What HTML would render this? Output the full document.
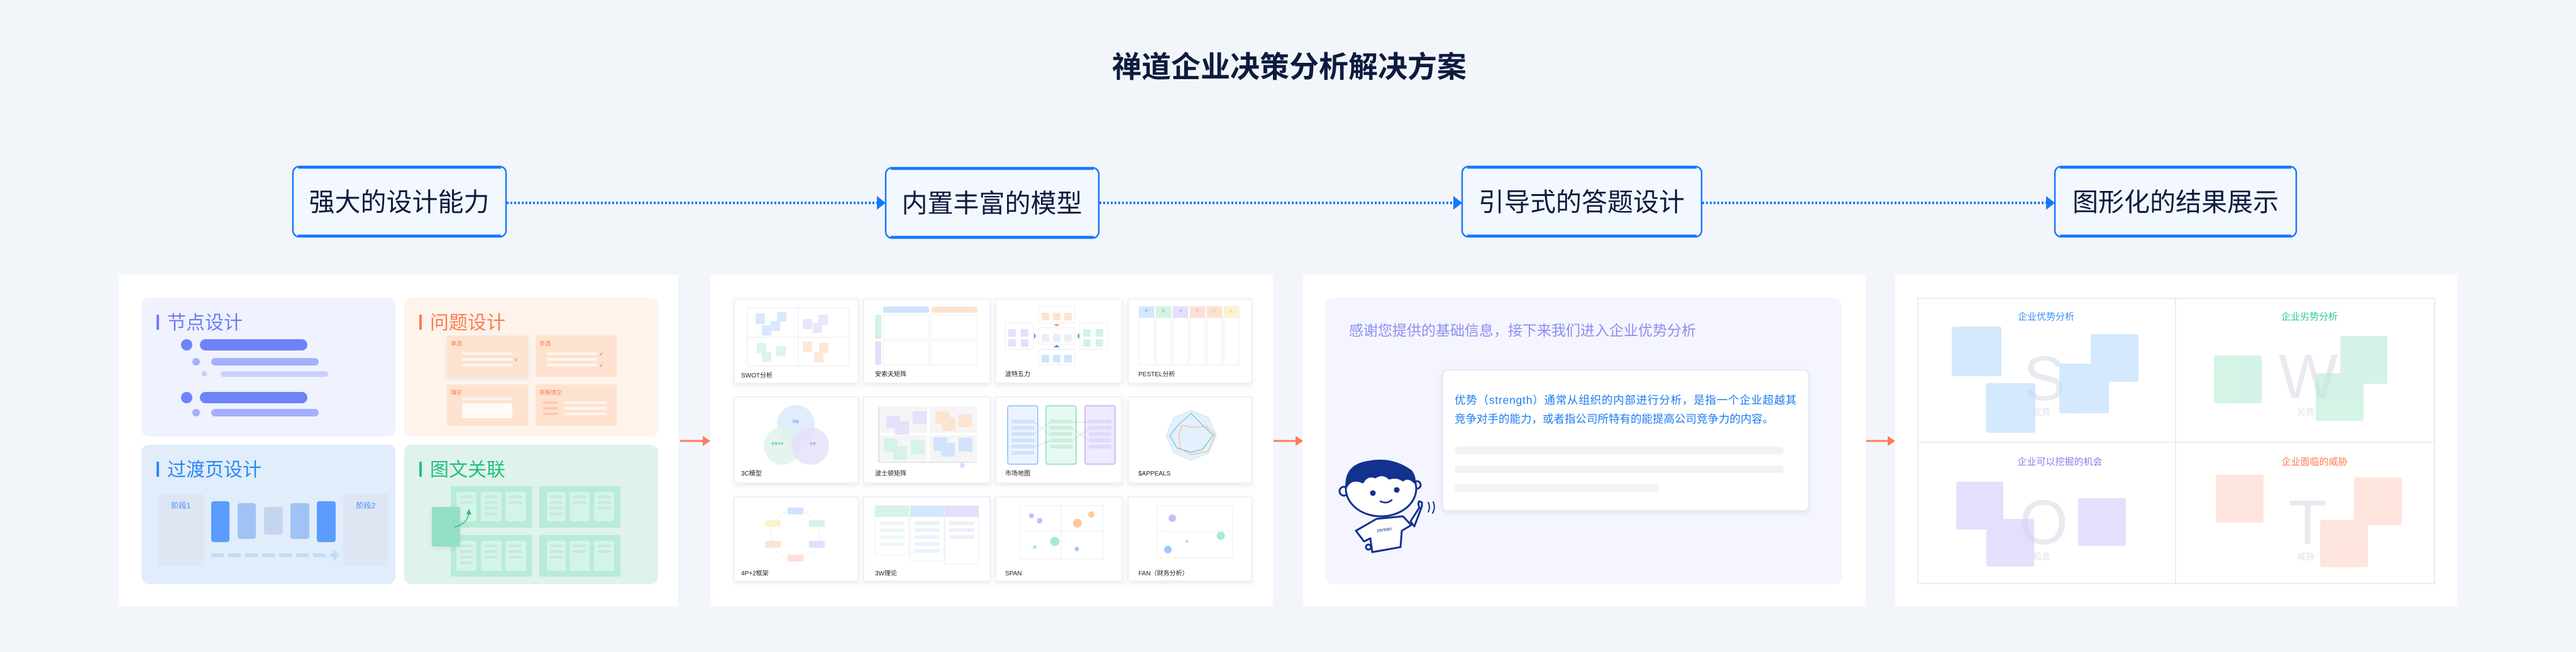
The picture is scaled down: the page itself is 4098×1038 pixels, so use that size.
<!DOCTYPE html>
<html><head><meta charset="utf-8"><style>
html,body{margin:0;padding:0;background:#f2f6fa;}
svg{display:block;}
text{font-family:"Liberation Sans","Noto Sans CJK SC",sans-serif;}
</style></head><body>
<svg width="4098" height="1038" viewBox="0 0 4098 1038" xmlns="http://www.w3.org/2000/svg">
<defs>
<filter id="sh" x="-20%" y="-20%" width="140%" height="140%"><feDropShadow dx="0" dy="3" stdDeviation="4" flood-color="#8090b0" flood-opacity="0.18"/></filter>
</defs>
<rect width="4098" height="1038" fill="#f2f6fa"/>
<text x="2051" y="123" font-size="47" font-weight="bold" fill="#0d1b3e" text-anchor="middle">禅道企业决策分析解决方案</text>

<!-- top boxes -->
<g font-size="41" fill="#0d1b3e" text-anchor="middle">
<rect x="466" y="265" width="339" height="112" rx="10" fill="#f3f8ff" stroke="#1677ff" stroke-width="2.5"/>
<line x1="474" y1="266.5" x2="797" y2="266.5" stroke="#1677ff" stroke-width="4"/><line x1="474" y1="375.5" x2="797" y2="375.5" stroke="#1677ff" stroke-width="4"/>
<text x="635" y="336">强大的设计能力</text>
<rect x="1409" y="267" width="339" height="112" rx="10" fill="#f3f8ff" stroke="#1677ff" stroke-width="2.5"/>
<line x1="1417" y1="268.5" x2="1740" y2="268.5" stroke="#1677ff" stroke-width="4"/><line x1="1417" y1="377.5" x2="1740" y2="377.5" stroke="#1677ff" stroke-width="4"/>
<text x="1578" y="338">内置丰富的模型</text>
<rect x="2326" y="265" width="381" height="112" rx="10" fill="#f3f8ff" stroke="#1677ff" stroke-width="2.5"/>
<line x1="2334" y1="266.5" x2="2699" y2="266.5" stroke="#1677ff" stroke-width="4"/><line x1="2334" y1="375.5" x2="2699" y2="375.5" stroke="#1677ff" stroke-width="4"/>
<text x="2516" y="336">引导式的答题设计</text>
<rect x="3269" y="265" width="384" height="112" rx="10" fill="#f3f8ff" stroke="#1677ff" stroke-width="2.5"/>
<line x1="3277" y1="266.5" x2="3645" y2="266.5" stroke="#1677ff" stroke-width="4"/><line x1="3277" y1="375.5" x2="3645" y2="375.5" stroke="#1677ff" stroke-width="4"/>
<text x="3461" y="336">图形化的结果展示</text>
</g>
<g stroke="#1677ff" stroke-width="4" stroke-dasharray="3 3">
<line x1="806" y1="323" x2="1396" y2="323"/><line x1="1749" y1="323" x2="2313" y2="323"/><line x1="2708" y1="323" x2="3256" y2="323"/>
</g>
<g fill="#1677ff">
<polygon points="1395,312 1409,323 1395,334"/><polygon points="2312,312 2326,323 2312,334"/><polygon points="3255,312 3269,323 3255,334"/>
</g>

<!-- panels -->
<rect x="189" y="438" width="890" height="527" fill="#fff"/>
<rect x="1130" y="438" width="895" height="527" fill="#fff"/>
<rect x="2073" y="438" width="895" height="527" fill="#fff"/>
<rect x="3015" y="438" width="894" height="527" fill="#fff"/>
<g stroke="#ff7a5c" stroke-width="3"><line x1="1082" y1="702" x2="1120" y2="702"/><line x1="2026" y1="702" x2="2063" y2="702"/><line x1="2969" y1="702" x2="3005" y2="702"/></g>
<g fill="#ff7a5c"><polygon points="1118,694 1130,702 1118,710"/><polygon points="2061,694 2073,702 2061,710"/><polygon points="3003,694 3015,702 3003,710"/></g>

<!-- ===== Panel 1 ===== -->
<rect x="225" y="474" width="404" height="221" rx="12" fill="#f0f2fe"/>
<rect x="643" y="474" width="404" height="221" rx="12" fill="#fef4ec"/>
<rect x="225" y="708" width="404" height="222" rx="12" fill="#e1edfa"/>
<rect x="643" y="708" width="404" height="222" rx="12" fill="#dff2ec"/>
<rect x="249" y="501" width="4" height="24" fill="#6c7ef5"/><text x="266" y="524" font-size="30" fill="#6c7ef5">节点设计</text>
<rect x="667" y="501" width="4" height="24" fill="#ff7a4c"/><text x="684" y="524" font-size="30" fill="#ff7a4c">问题设计</text>
<rect x="249" y="735" width="4" height="24" fill="#2b88f5"/><text x="266" y="758" font-size="30" fill="#2b88f5">过渡页设计</text>
<rect x="667" y="735" width="4" height="24" fill="#22c17a"/><text x="684" y="758" font-size="30" fill="#22c17a">图文关联</text>
<!-- nodes -->
<ellipse cx="297" cy="549" rx="9" ry="9" fill="#6e83f7"/><rect x="318" y="540" width="171" height="18" rx="9" fill="#6e83f7"/>
<circle cx="312" cy="576" r="6" fill="#a4b0fb"/><rect x="336" y="570" width="171" height="12" rx="6" fill="#a4b0fb"/>
<circle cx="325" cy="595" r="4.5" fill="#c8d0fb"/><rect x="351" y="591" width="171" height="9" rx="4.5" fill="#c8d0fb"/>
<circle cx="297" cy="633" r="9" fill="#6e83f7"/><rect x="318" y="624" width="171" height="18" rx="9" fill="#6e83f7"/>
<circle cx="312" cy="657" r="6" fill="#a4b0fb"/><rect x="336" y="651" width="171" height="12" rx="6" fill="#a4b0fb"/>
<!-- question -->
<g font-size="9" fill="#ff7a4c">
<rect x="711" y="534" width="129" height="66" fill="#fde3cf" filter="url(#sh)"/>
<rect x="852" y="534" width="129" height="66" fill="#fde3cf"/>
<rect x="711" y="612" width="129" height="66" fill="#fde3cf"/>
<rect x="852" y="612" width="129" height="66" fill="#fde3cf"/>
<text x="717" y="550">单选</text><text x="858" y="550">多选</text><text x="717" y="628">填空</text><text x="858" y="628">表格填空</text>
</g>
<g fill="#fff5ee">
<rect x="735" y="561" width="80" height="4" rx="2"/><rect x="735" y="570" width="80" height="4" rx="2"/><rect x="735" y="579" width="80" height="4" rx="2"/>
<rect x="870" y="561" width="80" height="4" rx="2"/><rect x="870" y="570" width="80" height="4" rx="2"/><rect x="870" y="579" width="80" height="4" rx="2"/>
<rect x="735" y="633" width="80" height="4" rx="2"/><rect x="735" y="642" width="80" height="24" rx="2" fill="#fffaf6"/>
<rect x="897" y="639" width="68" height="4" rx="2"/><rect x="897" y="648" width="68" height="4" rx="2"/><rect x="897" y="657" width="68" height="4" rx="2"/>
</g>
<g fill="#fdc9ae"><rect x="864" y="639" width="23" height="4"/><rect x="864" y="648" width="23" height="4"/><rect x="864" y="657" width="23" height="4"/></g>
<g font-size="7" fill="#555"><text x="819" y="575">√</text><text x="954" y="566">√</text><text x="954" y="584">√</text></g>
<!-- transition -->
<rect x="252" y="786" width="72" height="116" rx="4" fill="#dfe6f3"/><rect x="546" y="786" width="71" height="116" rx="4" fill="#dfe6f3"/>
<text x="288" y="809" font-size="12" fill="#3b8ef5" text-anchor="middle">阶段1</text><text x="582" y="809" font-size="12" fill="#3b8ef5" text-anchor="middle">阶段2</text>
<rect x="336" y="798" width="29" height="65" rx="4" fill="#5b9cff"/>
<rect x="378" y="801" width="29" height="57" rx="4" fill="#a0c2f5"/>
<rect x="420" y="807" width="30" height="44" rx="4" fill="#c4d6ef"/>
<rect x="462" y="801" width="30" height="57" rx="4" fill="#a0c2f5"/>
<rect x="504" y="798" width="30" height="65" rx="4" fill="#5b9cff"/>
<line x1="336" y1="884" x2="530" y2="884" stroke="#c2dcf7" stroke-width="6" stroke-dasharray="20 7"/>
<polygon points="530,875 540,884 530,894" fill="#c2dcf7"/>
<!-- image-text -->
<g fill="#b8ebd8"><rect x="717" y="774" width="129" height="66"/><rect x="858" y="774" width="129" height="66"/><rect x="717" y="852" width="129" height="66"/><rect x="858" y="852" width="129" height="66"/></g>
<g fill="#d3f4e6">
<rect x="726" y="783" width="32" height="47" rx="3"/><rect x="765" y="783" width="33" height="47" rx="3"/><rect x="804" y="783" width="33" height="47" rx="3"/>
<rect x="870" y="783" width="30" height="47" rx="3"/><rect x="906" y="783" width="32" height="47" rx="3"/><rect x="945" y="783" width="32" height="47" rx="3"/>
<rect x="726" y="861" width="32" height="48" rx="3"/><rect x="765" y="861" width="33" height="48" rx="3"/><rect x="804" y="861" width="33" height="48" rx="3"/>
<rect x="870" y="861" width="30" height="48" rx="3"/><rect x="906" y="861" width="32" height="48" rx="3"/><rect x="945" y="861" width="32" height="48" rx="3"/>
</g>
<g fill="#c7e8da">
<rect x="732" y="789" width="20" height="4"/><rect x="732" y="798" width="20" height="4"/><rect x="771" y="789" width="20" height="4"/><rect x="771" y="798" width="20" height="4"/><rect x="771" y="807" width="20" height="4"/><rect x="771" y="816" width="20" height="4"/><rect x="810" y="789" width="20" height="4"/><rect x="810" y="798" width="20" height="4"/>
<rect x="875" y="789" width="20" height="4"/><rect x="875" y="798" width="20" height="4"/><rect x="875" y="807" width="20" height="4"/><rect x="875" y="816" width="20" height="4"/><rect x="912" y="789" width="20" height="4"/><rect x="912" y="798" width="20" height="4"/><rect x="951" y="789" width="20" height="4"/><rect x="951" y="798" width="20" height="4"/><rect x="951" y="807" width="20" height="4"/>
<rect x="732" y="867" width="20" height="4"/><rect x="732" y="876" width="20" height="4"/><rect x="732" y="885" width="20" height="4"/><rect x="732" y="894" width="20" height="4"/><rect x="771" y="867" width="20" height="4"/><rect x="771" y="876" width="20" height="4"/><rect x="771" y="885" width="20" height="4"/><rect x="810" y="867" width="20" height="4"/><rect x="810" y="876" width="20" height="4"/><rect x="810" y="885" width="20" height="4"/>
<rect x="875" y="867" width="20" height="4"/><rect x="875" y="876" width="20" height="4"/><rect x="875" y="885" width="20" height="4"/><rect x="912" y="867" width="20" height="4"/><rect x="912" y="876" width="20" height="4"/><rect x="951" y="867" width="20" height="4"/><rect x="951" y="876" width="20" height="4"/>
</g>
<rect x="687" y="807" width="45" height="63" rx="3" fill="#8fe0c4" opacity="0.95" filter="url(#sh)"/>
<path d="M723 839 Q742 835 746 818" fill="none" stroke="#22c17a" stroke-width="1.5"/><polygon points="742,819 746,810 750,819" fill="#22c17a"/>

<!-- ===== Panel 2 tiles ===== -->
<g fill="#fff" stroke="#eceef5" stroke-width="1.5" filter="url(#sh)">
<rect x="1168" y="476" width="197" height="134"/><rect x="1374" y="476" width="201" height="134"/><rect x="1584" y="476" width="201" height="134"/><rect x="1795" y="476" width="196" height="134"/>
<rect x="1168" y="632" width="197" height="137"/><rect x="1374" y="632" width="201" height="137"/><rect x="1584" y="632" width="201" height="137"/><rect x="1795" y="632" width="196" height="137"/>
<rect x="1168" y="791" width="197" height="134"/><rect x="1374" y="791" width="201" height="134"/><rect x="1584" y="791" width="201" height="134"/><rect x="1795" y="791" width="196" height="134"/>
</g>
<g font-size="10" fill="#222">
<text x="1179" y="601">SWOT分析</text><text x="1392" y="599">安索夫矩阵</text><text x="1599" y="599">波特五力</text><text x="1811" y="599">PESTEL分析</text>
<text x="1179" y="757">3C模型</text><text x="1392" y="757">波士顿矩阵</text><text x="1599" y="757">市场地图</text><text x="1811" y="757">$APPEALS</text>
<text x="1179" y="916">4P+2框架</text><text x="1392" y="916">3W理论</text><text x="1599" y="916">SPAN</text><text x="1811" y="916">FAN（财务分析）</text>
</g>
<!-- SWOT mini -->
<rect x="1189" y="490" width="162" height="93" fill="none" stroke="#e6e8ef"/><line x1="1270" y1="490" x2="1270" y2="583" stroke="#e6e8ef"/><line x1="1189" y1="537" x2="1351" y2="537" stroke="#e6e8ef"/>
<g opacity="0.8"><rect x="1202" y="499" width="15" height="17" fill="#cfe3fd"/><rect x="1212" y="518" width="15" height="16" fill="#cfe3fd"/><rect x="1226" y="511" width="15" height="16" fill="#cfe3fd"/><rect x="1236" y="497" width="15" height="15" fill="#cfe3fd"/>
<rect x="1277" y="508" width="15" height="16" fill="#e3dffc"/><rect x="1293" y="514" width="15" height="16" fill="#e3dffc"/><rect x="1302" y="501" width="15" height="16" fill="#e3dffc"/>
<rect x="1204" y="546" width="15" height="16" fill="#d3f3e6"/><rect x="1212" y="560" width="15" height="16" fill="#d3f3e6"/><rect x="1235" y="551" width="15" height="16" fill="#d3f3e6"/>
<rect x="1277" y="544" width="15" height="16" fill="#fde3cf"/><rect x="1303" y="546" width="15" height="16" fill="#fde3cf"/><rect x="1295" y="561" width="15" height="16" fill="#fde3cf"/></g>
<!-- Ansoff -->
<rect x="1405" y="488" width="73" height="10" rx="3" fill="#cfe3fd"/><rect x="1482" y="488" width="73" height="10" rx="3" fill="#fde3cf"/>
<rect x="1392" y="501" width="10" height="39" rx="3" fill="#d3f3e6"/><rect x="1392" y="543" width="10" height="38" rx="3" fill="#e3dffc"/>
<g fill="none" stroke="#eceef3"><rect x="1405" y="501" width="73" height="39"/><rect x="1482" y="501" width="73" height="39"/><rect x="1405" y="543" width="73" height="38"/><rect x="1482" y="543" width="73" height="38"/></g>
<!-- Porter -->
<g fill="none" stroke="#eceef3"><rect x="1652" y="488" width="58" height="26"/><rect x="1652" y="522" width="58" height="26"/><rect x="1652" y="556" width="58" height="25"/><rect x="1599" y="514" width="45" height="42"/><rect x="1718" y="514" width="44" height="42"/></g>
<g fill="#fde3cf"><rect x="1657" y="498" width="12" height="12"/><rect x="1675" y="498" width="12" height="12"/><rect x="1693" y="498" width="12" height="12"/></g>
<g fill="#eceef3"><rect x="1657" y="532" width="12" height="12"/><rect x="1675" y="532" width="12" height="12"/><rect x="1693" y="532" width="12" height="12"/></g>
<g fill="#cfe3fd"><rect x="1657" y="565" width="12" height="12"/><rect x="1675" y="565" width="12" height="12"/><rect x="1693" y="565" width="12" height="12"/></g>
<g fill="#e3dffc"><rect x="1604" y="524" width="12" height="12"/><rect x="1624" y="524" width="12" height="12"/><rect x="1604" y="540" width="12" height="12"/><rect x="1624" y="540" width="12" height="12"/></g>
<g fill="#d3f3e6"><rect x="1723" y="524" width="12" height="12"/><rect x="1743" y="524" width="12" height="12"/><rect x="1723" y="540" width="12" height="12"/><rect x="1743" y="540" width="12" height="12"/></g>
<polygon points="1676,516 1686,516 1681,520" fill="#ff9a5c"/><polygon points="1676,553 1686,553 1681,549" fill="#3b8ef5"/><polygon points="1645,530 1648,535 1645,540" fill="#8a7cf0"/><polygon points="1717,530 1714,535 1717,540" fill="#22c17a"/>
<!-- PESTEL -->
<g fill="none" stroke="#eceef3"><rect x="1812" y="488" width="24" height="93"/><rect x="1839" y="488" width="24" height="93"/><rect x="1866" y="488" width="24" height="93"/><rect x="1893" y="488" width="24" height="93"/><rect x="1920" y="488" width="24" height="93"/><rect x="1947" y="488" width="24" height="93"/></g>
<rect x="1812" y="488" width="24" height="18" fill="#d3e7fd"/><rect x="1839" y="488" width="24" height="18" fill="#d3f3e6"/><rect x="1866" y="488" width="24" height="18" fill="#e3dffc"/><rect x="1893" y="488" width="24" height="18" fill="#fde0d8"/><rect x="1920" y="488" width="24" height="18" fill="#fde3cf"/><rect x="1947" y="488" width="24" height="18" fill="#fdf1cf"/>
<g font-size="6" text-anchor="middle"><text x="1824" y="497" fill="#3b8ef5">P</text><text x="1851" y="497" fill="#22c17a">E</text><text x="1878" y="497" fill="#8a7cf0">S</text><text x="1905" y="497" fill="#ff7a52">T</text><text x="1932" y="497" fill="#ff9a5c">E</text><text x="1959" y="497" fill="#e0b040">L</text></g>
<!-- 3C -->
<circle cx="1266" cy="675" r="30" fill="#dbeafd" opacity="0.85"/><circle cx="1245" cy="710" r="30" fill="#dff3ea" opacity="0.8"/><circle cx="1289" cy="710" r="30" fill="#e6dffb" opacity="0.8"/>
<g font-size="5" text-anchor="middle"><text x="1266" y="673" fill="#3b8ef5">顾客</text><text x="1237" y="708" fill="#22c17a">竞争对手</text><text x="1293" y="708" fill="#8a7cf0">自身</text></g>
<!-- Boston -->
<line x1="1398" y1="648" x2="1398" y2="736" stroke="#999" stroke-width="0.6"/><line x1="1398" y1="736" x2="1555" y2="736" stroke="#999" stroke-width="0.6"/>
<g fill="#f5f5f7"><rect x="1399" y="647" width="76" height="42"/><rect x="1479" y="647" width="75" height="42"/><rect x="1399" y="693" width="76" height="42"/><rect x="1479" y="693" width="75" height="42"/></g>
<g opacity="0.9"><rect x="1410" y="662" width="22" height="20" fill="#e3dffc"/><rect x="1424" y="670" width="22" height="22" fill="#e3dffc"/><rect x="1452" y="655" width="22" height="20" fill="#e3dffc"/>
<rect x="1488" y="655" width="22" height="20" fill="#fde3cf"/><rect x="1498" y="664" width="22" height="22" fill="#fde3cf"/><rect x="1524" y="660" width="22" height="20" fill="#fde3cf"/>
<rect x="1406" y="698" width="22" height="22" fill="#d3f3e6"/><rect x="1421" y="710" width="22" height="22" fill="#d3f3e6"/><rect x="1449" y="701" width="22" height="22" fill="#d3f3e6"/>
<rect x="1485" y="696" width="22" height="22" fill="#cfe3fd"/><rect x="1497" y="705" width="22" height="22" fill="#cfe3fd"/><rect x="1525" y="697" width="22" height="22" fill="#cfe3fd"/></g>
<circle cx="1531" cy="741" r="4" fill="#cfe3fd"/>
<!-- Market map -->
<rect x="1603" y="646" width="48" height="93" rx="3" fill="#eaf3ff" stroke="#5b9cff"/><rect x="1664" y="646" width="48" height="93" rx="3" fill="#e8f9f2" stroke="#3fd39a"/><rect x="1726" y="646" width="48" height="93" rx="3" fill="#efeaff" stroke="#9f8ff5"/>
<g fill="#cfe3fd"><rect x="1609" y="668" width="36" height="6"/><rect x="1609" y="678" width="36" height="6"/><rect x="1609" y="688" width="36" height="6"/><rect x="1609" y="698" width="36" height="6"/><rect x="1609" y="708" width="36" height="6"/><rect x="1609" y="718" width="36" height="6"/></g>
<g fill="#cdeedf"><rect x="1670" y="668" width="36" height="6"/><rect x="1670" y="678" width="36" height="6"/><rect x="1670" y="688" width="36" height="6"/><rect x="1670" y="698" width="36" height="6"/><rect x="1670" y="708" width="36" height="6"/></g>
<g fill="#e0d9fb"><rect x="1732" y="668" width="36" height="6"/><rect x="1732" y="678" width="36" height="6"/><rect x="1732" y="688" width="36" height="6"/><rect x="1732" y="698" width="36" height="6"/><rect x="1732" y="708" width="36" height="6"/></g>
<g stroke="#aaa" stroke-width="0.5"><line x1="1645" y1="672" x2="1670" y2="692"/><line x1="1645" y1="692" x2="1670" y2="672"/><line x1="1645" y1="712" x2="1670" y2="702"/><line x1="1706" y1="672" x2="1732" y2="672"/><line x1="1706" y1="682" x2="1732" y2="702"/><line x1="1706" y1="702" x2="1732" y2="682"/></g>
<!-- APPEALS -->
<polygon points="1895,653 1923,665 1935,693 1923,721 1895,733 1867,721 1855,693 1867,665" fill="#e4f0fd" stroke="#cfe3fd"/>
<polygon points="1895,663 1916,672 1925,693 1916,714 1895,723 1874,714 1865,693 1874,672" fill="none" stroke="#d8e8fb" stroke-width="0.6"/>
<polygon points="1895,658 1912,676 1930,693 1913,715 1895,720 1872,713 1861,693 1876,675" fill="none" stroke="#2bb59a" stroke-width="0.8"/>
<polygon points="1895,680 1920,679 1933,693 1922,718 1895,724 1878,714 1875,693 1880,677" fill="none" stroke="#ffa45c" stroke-width="0.8"/>
<!-- 4P+2 -->
<circle cx="1265" cy="852" r="39" fill="none" stroke="#eceef3"/>
<rect x="1253" y="808" width="25" height="11" rx="2" fill="#cfe3fd"/><rect x="1287" y="828" width="25" height="11" rx="2" fill="#d3f3e6"/><rect x="1287" y="861" width="25" height="11" rx="2" fill="#e3dffc"/><rect x="1253" y="883" width="25" height="11" rx="2" fill="#fde0d8"/><rect x="1217" y="861" width="25" height="11" rx="2" fill="#fde3cf"/><rect x="1217" y="828" width="25" height="11" rx="2" fill="#fdf1cf"/>
<!-- 3W -->
<g fill="none" stroke="#eceef3"><rect x="1392" y="805" width="54" height="79"/><rect x="1448" y="805" width="54" height="88"/><rect x="1503" y="805" width="54" height="93"/></g>
<rect x="1392" y="805" width="54" height="18" fill="#d6f3e8"/><rect x="1448" y="805" width="54" height="18" fill="#d3e7fd"/><rect x="1503" y="805" width="54" height="18" fill="#e3dffc"/>
<g fill="#eef8f3"><rect x="1399" y="830" width="40" height="6"/><rect x="1399" y="841" width="40" height="6"/><rect x="1399" y="852" width="40" height="6"/><rect x="1399" y="863" width="40" height="6"/></g>
<g fill="#eaf2fd"><rect x="1455" y="830" width="40" height="6"/><rect x="1455" y="841" width="40" height="6"/><rect x="1455" y="852" width="40" height="6"/><rect x="1455" y="863" width="40" height="6"/><rect x="1455" y="874" width="40" height="6"/></g>
<g fill="#f0edfd"><rect x="1510" y="830" width="40" height="6"/><rect x="1510" y="841" width="40" height="6"/><rect x="1510" y="852" width="40" height="6"/></g>
<!-- SPAN -->
<rect x="1622" y="805" width="133" height="85" fill="none" stroke="#eceef3"/><line x1="1688" y1="805" x2="1688" y2="890" stroke="#eceef3"/><line x1="1622" y1="846" x2="1755" y2="846" stroke="#eceef3"/>
<circle cx="1641" cy="821" r="4" fill="#c8bcf9"/><circle cx="1654" cy="829" r="4.5" fill="#c8bcf9"/><circle cx="1736" cy="819" r="5" fill="#ffc89a"/><circle cx="1714" cy="833" r="7" fill="#ffc89a"/><circle cx="1678" cy="862" r="7.5" fill="#a8ead5"/><circle cx="1646" cy="871" r="3" fill="#a8ead5"/><circle cx="1713" cy="874" r="3.5" fill="#a0c8fb"/>
<!-- FAN -->
<rect x="1840" y="805" width="121" height="83" fill="none" stroke="#eceef3"/><line x1="1840" y1="846" x2="1961" y2="846" stroke="#e0e0e6" stroke-dasharray="2 2"/>
<circle cx="1865" cy="825" r="6" fill="#c8bcf9"/><circle cx="1942" cy="853" r="6.5" fill="#a8ead5"/><circle cx="1858" cy="875" r="6" fill="#a0c8fb"/><circle cx="1888" cy="862" r="2.5" fill="#ffc89a"/>

<!-- ===== Panel 3 ===== -->
<rect x="2109" y="474" width="821" height="456" rx="12" fill="#f4f5fe"/>
<text x="2146" y="534" font-size="23" fill="#8a8ef0">感谢您提供的基础信息，接下来我们进入企业优势分析</text>
<rect x="2295" y="589" width="582" height="224" rx="8" fill="#fff" stroke="#e6ebf5" stroke-width="2" filter="url(#sh)"/>
<text x="2314" y="643" font-size="17.5" fill="#1a7cf0" textLength="544">优势（strength）通常从组织的内部进行分析，是指一个企业超越其</text>
<text x="2314" y="673" font-size="17.5" fill="#1a7cf0">竞争对手的能力，或者指公司所特有的能提高公司竞争力的内容。</text>
<rect x="2314" y="711" width="524" height="12" rx="6" fill="#f0f2f6"/><rect x="2314" y="741" width="524" height="12" rx="6" fill="#f0f2f6"/><rect x="2314" y="771" width="326" height="12" rx="6" fill="#f0f2f6"/>
<!-- mascot -->
<g stroke="#13318f" stroke-width="3" stroke-linejoin="round" stroke-linecap="round">
<path d="M2244 830 L2258 808 Q2255 800 2258 798 L2262 800 L2262 806 L2250 838 Z" fill="#fff"/>
<path d="M2157 845 L2190 826 L2232 822 L2245 836 L2230 845 L2228 871 L2183 879 L2180 857 L2170 862 Z" fill="#fff"/>
<circle cx="2177" cy="871" r="4" fill="#fff"/>
<circle cx="2138" cy="782" r="7" fill="#fff"/><circle cx="2254" cy="772" r="6" fill="#fff"/>
<ellipse cx="2197" cy="778" rx="56" ry="44" fill="#fff"/>
<path d="M2142 775 Q2140 740 2178 735 Q2215 728 2245 750 Q2252 760 2250 768 Q2240 758 2232 765 Q2222 758 2210 762 Q2200 752 2188 760 Q2175 755 2168 768 Q2150 760 2142 775 Z" fill="#13318f"/>
<path d="M2196 798 Q2206 803 2214 796" fill="none" stroke-width="2.5"/>
<path d="M2272 800 Q2276 808 2272 815 M2280 799 Q2284 808 2279 817" fill="none" stroke-width="2"/>
</g>
<circle cx="2184" cy="785" r="4.5" fill="#13318f"/><circle cx="2222" cy="780" r="4.5" fill="#13318f"/>
<text x="2190" y="846" font-size="8" fill="#13318f" transform="rotate(-8 2200 843)">zentao</text>

<!-- ===== Panel 4 ===== -->
<g fill="none" stroke="#ebecf2" stroke-width="2"><rect x="3051" y="475" width="822" height="454"/><line x1="3461" y1="475" x2="3461" y2="929"/><line x1="3051" y1="704" x2="3873" y2="704"/></g>
<g font-size="15" text-anchor="middle"><text x="3255" y="509" fill="#3b8ef5">企业优势分析</text><text x="3674" y="509" fill="#2fcb8a">企业劣势分析</text><text x="3277" y="740" fill="#8a7cf0">企业可以挖掘的机会</text><text x="3682" y="740" fill="#ff7a52">企业面临的威胁</text></g>
<g font-size="100" fill="#e8eaf0" text-anchor="middle"><text x="3252" y="637">S</text><text x="3672" y="634">W</text><text x="3251" y="866">O</text><text x="3671" y="866">T</text></g>
<g font-size="14" fill="#e0e2ea" text-anchor="middle"><text x="3248" y="661">优势</text><text x="3668" y="661">劣势</text><text x="3248" y="891">机会</text><text x="3668" y="891">威胁</text></g>
<g fill="#b9dbfc" opacity="0.6"><rect x="3105" y="520" width="79" height="79" rx="3"/><rect x="3159" y="610" width="79" height="79" rx="3"/><rect x="3276" y="579" width="79" height="79" rx="3"/><rect x="3326" y="532" width="76" height="76" rx="3"/></g>
<g fill="#b8ecd6" opacity="0.6"><rect x="3522" y="566" width="76" height="76" rx="3"/><rect x="3684" y="594" width="76" height="76" rx="3"/><rect x="3723" y="535" width="75" height="76" rx="3"/></g>
<g fill="#d6cefb" opacity="0.65"><rect x="3112" y="767" width="75" height="76" rx="3"/><rect x="3160" y="826" width="76" height="76" rx="3"/><rect x="3306" y="793" width="76" height="76" rx="3"/></g>
<g fill="#fdd3c6" opacity="0.6"><rect x="3525" y="756" width="76" height="76" rx="3"/><rect x="3745" y="760" width="76" height="76" rx="3"/><rect x="3691" y="828" width="76" height="75" rx="3"/></g>
</svg>
</body></html>
